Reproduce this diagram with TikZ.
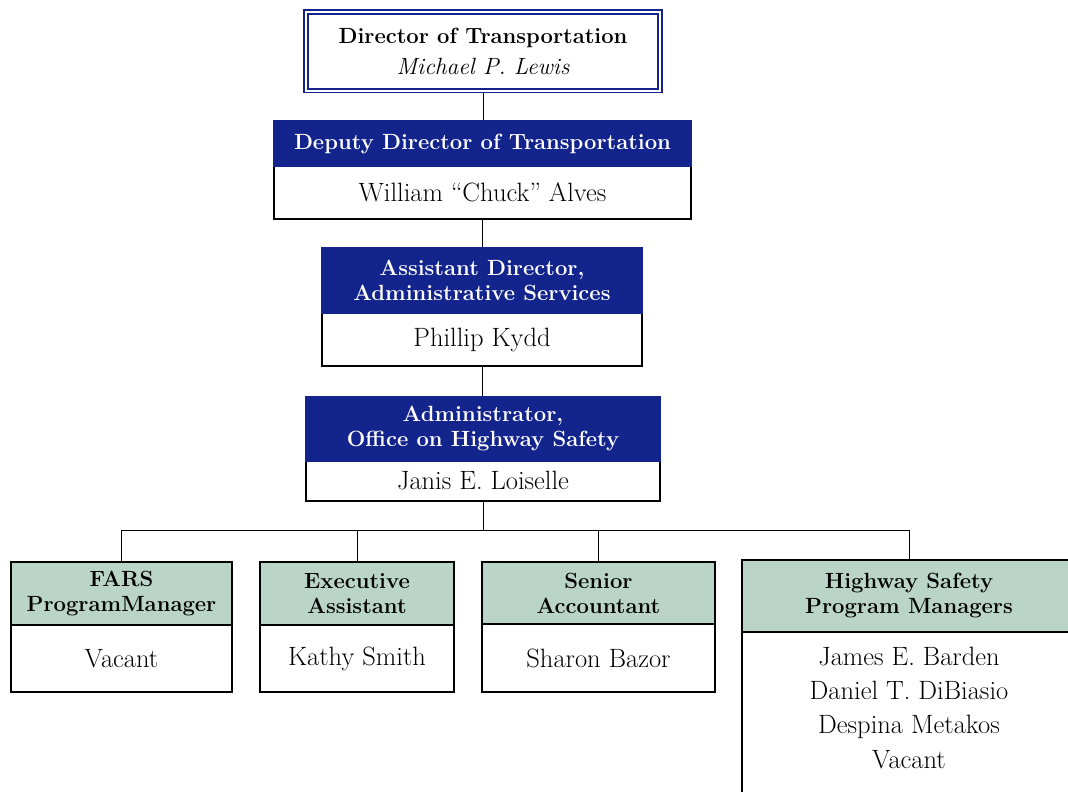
\documentclass[tikz,border=0pt]{standalone}
\usepackage{tikz}
\definecolor{navy}{RGB}{19,36,140}
\definecolor{sage}{RGB}{186,213,200}
\newcommand{\hdfont}{\fontsize{22}{25}\selectfont\bfseries}
\newcommand{\nmfont}{\fontsize{26.5}{34.3}\selectfont}
\newcommand{\itfont}{\fontsize{23.5}{31}\selectfont\itshape}
\tikzset{
  navyhead/.style={fill=navy, draw=navy, line width=2pt, text=white, align=center, inner sep=0pt, font=\hdfont},
  greenhead/.style={fill=sage, draw=black, line width=2pt, align=center, inner sep=0pt, font=\hdfont},
  namebody/.style={fill=white, draw=black, line width=2pt, align=center, inner sep=0pt, font=\nmfont},
  topbox/.style={draw=navy, line width=2.3pt, outer sep=3.9pt, align=center, inner sep=0pt, font=\itfont},
  link/.style={draw=black, line width=1pt}
}
\begin{document}
\begin{tikzpicture}[x=1pt,y=-1pt]
\useasboundingbox (0,0) rectangle (1068,792);
\clip (0,0) rectangle (1068,792);
\fill[white] (0,0) rectangle (1068,792);
% Drawing the top of the chain
\node[topbox, minimum width=350pt, minimum height=74.7pt] (director) at (483,51.4)
      {{\hdfont\upshape Director of Transportation}\\Michael P. Lewis};
\draw[navy, line width=1.3pt] (director.north west) rectangle (director.south east);
% Deputy director
\node[namebody, minimum width=417pt, minimum height=53pt] (deputybody) at (482.5,192.5) {William “Chuck” Alves};
\node[navyhead, minimum width=417pt, minimum height=45pt] (deputyhead) at (482.5,143.5) {Deputy Director of Transportation};
% Assistant director
\node[namebody, minimum width=320pt, minimum height=53pt] (assistbody) at (482,339.5) {Phillip Kydd};
\node[navyhead, minimum width=320pt, minimum height=65pt] (assisthead) at (482,280.5) {Assistant Director,\\Administrative Services};
% Administrator
\node[namebody, minimum width=354pt, minimum height=40pt] (adminbody) at (483,481) {Janis E. Loiselle};
\node[navyhead, minimum width=354pt, minimum height=64pt] (adminhead) at (483,429) {Administrator,\\Office on Highway Safety};
% Done with the chain; drawing the staff row
\node[greenhead, minimum width=221pt, minimum height=63pt] (farshead) at (121.5,593.5) {FARS\\ProgramManager};
\node[namebody, minimum width=221pt, minimum height=67pt] (farsbody) at (121.5,658.5) {Vacant};
\node[greenhead, minimum width=194pt, minimum height=63pt] (execthead) at (357,593.5) {Executive\\Assistant};
\node[namebody, minimum width=194pt, minimum height=67pt] (exectbody) at (357,658.5) {Kathy Smith};
\node[greenhead, minimum width=233pt, minimum height=62pt] (seniorhead) at (598.5,593) {Senior\\Accountant};
\node[namebody, minimum width=233pt, minimum height=68pt] (seniorbody) at (598.5,658) {Sharon Bazor};
\node[greenhead, minimum width=334pt, minimum height=72pt] (hwyhead) at (909,596) {Highway Safety\\Program Managers};
\node[namebody, minimum width=334pt] (hwybody) at (909,732)
  {\begin{minipage}[c][200pt][t]{320pt}\centering\vspace*{15pt}
   James E. Barden\\Daniel T. DiBiasio\\Despina Metakos\\Vacant\end{minipage}};
% Drawing connectors
\draw[link] (director.south) -- (director.south |- deputyhead.north);
\draw[link] (deputybody.south) -- (deputybody.south |- assisthead.north);
\draw[link] (assistbody.south) -- (assistbody.south |- adminhead.north);
\coordinate (bar) at (483,530);
\draw[link] (adminbody.south) -- (bar);
\draw[link] (bar -| farshead.north) -- (bar -| hwyhead.north);
\foreach \b in {farshead,execthead,seniorhead,hwyhead}
  \draw[link] (bar -| \b.north) -- (\b.north);
\end{tikzpicture}
\end{document}
